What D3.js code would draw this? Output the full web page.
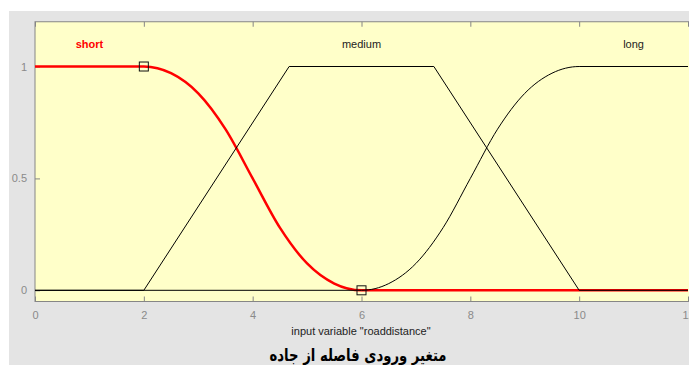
<!DOCTYPE html>
<html>
<head>
<meta charset="utf-8">
<script src="https://cdn.jsdelivr.net/npm/d3@7"></script>
<style>
  html, body { margin: 0; padding: 0; background: #fff; }
  svg { display: block; }
</style>
</head>
<body>
<div id="chart"></div>
<script>
// membership function names and label colours
const mfNames = ["short", "medium", "long"];
const mfColors = ["#ff0000", "#222222", "#222222"];

const shortX = [0, 2, 2.5, 3, 3.5, 4, 4.5, 5, 5.5, 6, 12];
const shortY = [1, 1, 0.97, 0.88, 0.72, 0.5, 0.28, 0.12, 0.03, 0, 0];
const mediumX = [0, 2, 4.67, 7.33, 10, 12];
const mediumY = [0, 0, 1, 1, 0, 0];
const longX = [0, 6, 6.5, 7, 7.5, 8, 8.5, 9, 9.5, 10, 12];
const longY = [0, 0, 0.03, 0.12, 0.28, 0.5, 0.72, 0.88, 0.97, 1, 1];

// label positions (x in data units, y in membership)
const labelX = [1, 6, 11];
const labelY = 1.1;

// square markers on the selected function
const markerX = [2, 6];
const markerY = [1, 0];

const xTicks = [0, 2, 4, 6, 8, 10, 12];
const yTicks = [0, 0.5, 1];

const xLabel = 'input variable "roaddistance"';
const caption = "متغیر ورودی فاصله از جاده";

const width = 689, height = 365;
const margin = { top: 21.75, right: 1, bottom: 63.5, left: 35 };

const svg = d3.select("#chart").append("svg")
  .attr("width", width).attr("height", height);

// figure background
svg.append("rect").attr("x", 9).attr("y", 11)
  .attr("width", width - 9).attr("height", height - 11)
  .attr("fill", "#e4e4e4");

const x = d3.scaleLinear().domain([0, 12]).range([margin.left, 688]);
const y = d3.scaleLinear().domain([-0.05, 1.2]).range([height - margin.bottom, margin.top]);

// plot area
svg.append("rect")
  .attr("x", margin.left).attr("y", margin.top)
  .attr("width", width + 10 - margin.left).attr("height", y.range()[0] - margin.top)
  .attr("fill", "#ffffc9")
  .attr("stroke", "#868686").attr("stroke-width", 1);

function styleAxis(g) {
  g.select(".domain").remove();
  g.selectAll(".tick line").attr("stroke", "#868686");
  g.selectAll(".tick text").attr("fill", "#8a8a8a")
    .attr("font-family", "Liberation Sans, Arial, sans-serif").attr("font-size", 11);
}

svg.append("g").attr("transform", `translate(0,${y.range()[0]})`)
  .call(d3.axisBottom(x).tickValues(xTicks).tickSize(-5).tickPadding(10).tickFormat(d3.format("d")))
  .call(styleAxis);

svg.append("g").attr("transform", `translate(0,${margin.top})`)
  .call(d3.axisTop(x).tickValues(xTicks).tickSize(-5).tickFormat(""))
  .call(styleAxis);

svg.append("g").attr("transform", `translate(${margin.left},0)`)
  .call(d3.axisLeft(y).tickValues(yTicks).tickSize(-5).tickPadding(8).tickFormat(d => d))
  .call(styleAxis);

const line = d3.line().x(d => x(d[0])).y(d => y(d[1])).curve(d3.curveMonotoneX);

const plot = svg.append("g");

plot.append("path")
  .attr("d", line(d3.zip(shortX, shortY)))
  .attr("fill", "none").attr("stroke", "#ff0000").attr("stroke-width", 2.5);

plot.append("path")
  .attr("d", d3.line().x(d => x(d[0])).y(d => y(d[1]))(d3.zip(mediumX, mediumY)))
  .attr("fill", "none").attr("stroke", "#000").attr("stroke-width", 1);

plot.append("path")
  .attr("d", line(d3.zip(longX, longY)))
  .attr("fill", "none").attr("stroke", "#000").attr("stroke-width", 1);

plot.selectAll("rect.marker").data(d3.zip(markerX, markerY)).enter().append("rect")
  .attr("class", "marker")
  .attr("x", d => x(d[0]) - 4.5).attr("y", d => y(d[1]) - 4.5)
  .attr("width", 9).attr("height", 9)
  .attr("fill", "none").attr("stroke", "#111").attr("stroke-width", 1);

svg.selectAll("text.mf").data(mfNames).enter().append("text")
  .attr("class", "mf")
  .attr("x", (d, i) => x(labelX[i]))
  .attr("y", y(labelY) + 4)
  .attr("text-anchor", "middle")
  .attr("font-family", "Liberation Sans, Arial, sans-serif")
  .attr("font-size", 11)
  .attr("font-weight", (d, i) => i === 0 ? "bold" : "normal")
  .attr("fill", (d, i) => mfColors[i])
  .text(d => d);

svg.append("text")
  .attr("x", 361).attr("y", 335)
  .attr("text-anchor", "middle")
  .attr("font-family", "Liberation Sans, Arial, sans-serif")
  .attr("font-size", 11).attr("fill", "#222")
  .text(xLabel);

svg.append("text")
  .attr("x", 358).attr("y", 361)
  .attr("text-anchor", "middle")
  .attr("direction", "rtl")
  .attr("font-family", "DejaVu Sans, sans-serif")
  .attr("font-size", 17).attr("font-weight", "bold").attr("fill", "#000")
  .attr("textLength", 177).attr("lengthAdjust", "spacingAndGlyphs")
  .text(caption);
</script>
</body>
</html>
